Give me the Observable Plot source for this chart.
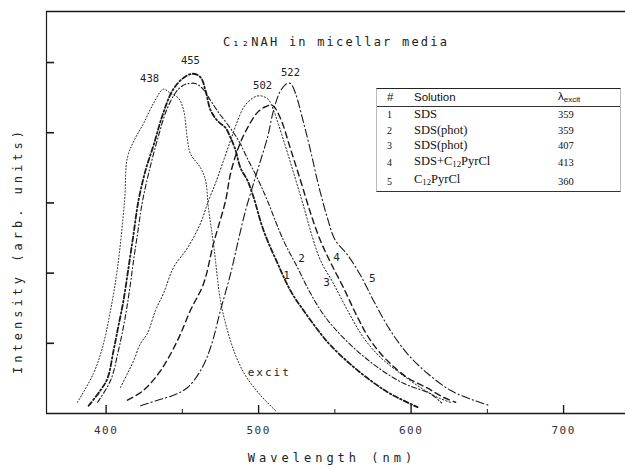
<!DOCTYPE html>
<html><head><meta charset="utf-8">
<script src="https://cdn.jsdelivr.net/npm/d3@7"></script>
<script src="https://cdn.jsdelivr.net/npm/@observablehq/plot@0.6"></script>
<style>
body{margin:0;background:#fff;}
#wrap{position:relative;width:625px;height:471px;overflow:hidden;}
#legend{position:absolute;left:376px;top:88px;width:243px;border-top:1.5px solid #222;border-bottom:1.2px solid #333;border-left:1px solid #bbb;border-right:1px solid #bbb;}
#legend table{border-collapse:collapse;width:100%;font-family:"Liberation Serif",serif;font-size:12.5px;color:#111;}
#legend th{font-family:"Liberation Sans",sans-serif;font-weight:normal;font-size:11.5px;text-align:left;border-bottom:1.2px solid #333;padding:1px 0 2px 0;height:12px;}
#legend td{padding:0;height:15.5px;line-height:15.5px;}
#legend td.n{padding-left:10px;width:27px;font-size:10px;}
#legend th.n{padding-left:10px;}
#legend td.v{width:62px;font-size:10.5px;}
sub{font-size:70%;vertical-align:-2px;}
</style></head><body><div id="wrap"></div>
<script>
// ---- data (wavelength nm, intensity arb. units) ----
const wlExcit = [381.2,391.7,397.6,402.9,407.5,412.1,414.0,419.3,424.5,431.1,437.6,442.2,447.5,450.8,453.4,455.3,461.9,465.2,467.1,470.4,475.0,479.6,484.9,491.4,501.2,511.1];
const inExcit = [0.16,0.57,0.94,1.47,2.08,3.03,3.65,3.93,4.13,4.42,4.62,4.56,4.49,4.32,3.89,3.70,3.50,3.32,2.93,2.42,1.61,1.18,0.83,0.54,0.26,0.04];

const wl1 = [388.5,396.3,400.9,404.9,408.1,411.4,414.7,418.0,421.2,425.8,431.1,437.0,443.5,450.1,456.7,461.9,465.2,468.5,473.0,478.3,481.6,484.9,488.1,492.7,496.7,503.2,512.4,520.9,529.4,540.6,547.2,560.3,575.3,586.5,604.2];
const in1 = [0.11,0.33,0.50,0.90,1.25,1.61,2.08,2.56,3.03,3.46,3.82,4.25,4.60,4.77,4.84,4.79,4.60,4.32,4.17,4.07,3.93,3.75,3.50,3.32,3.08,2.61,2.14,1.75,1.47,1.14,0.97,0.70,0.44,0.28,0.09];

const wl2 = [394.4,402.9,408.1,412.1,415.3,418.0,420.6,423.9,429.1,434.4,439.6,445.5,450.1,454.0,458.6,463.2,468.5,473.7,480.3,486.8,493.4,499.9,505.8,516.4,525.5,532.1,540.6,549.1,562.2,577.9,595.0,612.7,620.0];
const in2 = [0.16,0.47,0.90,1.32,1.75,2.18,2.56,3.03,3.53,3.96,4.32,4.57,4.67,4.70,4.70,4.63,4.46,4.29,4.10,3.89,3.60,3.32,3.03,2.46,2.08,1.79,1.47,1.23,0.94,0.66,0.43,0.28,0.15];

const wl3 = [409.4,414.0,418.0,422.6,427.1,432.4,437.6,444.2,453.4,461.9,467.1,471.7,476.3,481.6,486.2,490.1,494.7,498.6,502.6,506.5,509.8,516.4,522.9,529.4,535.3,540.6,549.1,558.3,568.8,579.9,593.0,606.2,617.3,625.8];
const in3 = [0.37,0.57,0.75,1.00,1.14,1.47,1.71,2.08,2.36,2.71,3.03,3.28,3.56,3.89,4.17,4.36,4.47,4.52,4.52,4.47,4.32,3.89,3.43,2.96,2.51,2.18,1.85,1.47,1.08,0.80,0.57,0.37,0.23,0.16];

const wl4 = [414.0,424.5,435.7,446.8,455.3,463.9,470.4,478.3,481.6,486.8,492.7,499.3,504.5,509.1,514.4,520.9,527.5,534.0,540.6,547.2,555.7,564.9,573.4,584.5,597.6,610.8,621.2,629.2];
const in4 = [0.19,0.33,0.61,1.04,1.47,1.85,2.42,3.03,3.42,3.79,4.07,4.29,4.37,4.39,4.20,3.77,3.32,2.86,2.46,2.15,1.79,1.37,1.04,0.75,0.51,0.36,0.23,0.16];

const wl5 = [422.6,433.7,444.2,453.4,461.9,468.5,475.0,481.6,486.2,491.4,496.7,501.2,505.8,509.8,514.4,518.5,521.0,524.2,528.8,534.0,539.3,545.2,550.0,558.3,566.8,575.3,586.5,597.6,610.8,625.8,640.9,652.1];
const in5 = [0.11,0.19,0.26,0.37,0.61,0.94,1.47,1.99,2.42,2.89,3.28,3.60,3.93,4.32,4.60,4.70,4.70,4.56,4.20,3.75,3.25,2.78,2.48,2.26,1.97,1.61,1.18,0.85,0.57,0.33,0.19,0.11];

const xTicks = [400, 500, 600, 700];
const xMinorTicks = [450, 550, 650];
const yTicks = [1, 2, 3, 4, 5];

const peakLabels = ["438", "455", "502", "522"];
const peakWl = [428.5, 455.3, 502.6, 520.9];
const peakIn = [4.77, 5.03, 4.67, 4.86];

const curveLabels = ["1", "2", "3", "4", "5", "excit"];
const curveLabelWl = [519.0, 528.8, 545.2, 551.7, 575.3, 507.0];
const curveLabelIn = [1.97, 2.21, 1.86, 2.22, 1.92, 0.58];

const solNums = ["1", "2", "3", "4", "5"];
const solNames = ["SDS", "SDS(phot)", "SDS(phot)", "SDS+C12PyrCl", "C12PyrCl"];
const solExcit = ["359", "359", "407", "413", "360"];

const titleText = "C₁₂NAH in micellar media";
const xLabel = "Wavelength (nm)";
const yLabel = "Intensity (arb. units)";

// ---- build ----
const toRows = (wl, I) => wl.map((w, i) => ({wl: w, I: I[i]}));
const xDom = [360.9, 740.6];
const yDom = [0, 5.727];
const ink = "#1a1a1a";

const lineStyles = [
  {rows: toRows(wlExcit, inExcit), strokeWidth: 1.0, strokeDasharray: "1,2.2"},
  {rows: toRows(wl1, in1), strokeWidth: 1.8, strokeDasharray: "5,2.5,1.5,2.5"},
  {rows: toRows(wl2, in2), strokeWidth: 1.1, strokeDasharray: "5,2.5,1,2.5"},
  {rows: toRows(wl3, in3), strokeWidth: 1.0, strokeDasharray: "1.3,2.2"},
  {rows: toRows(wl4, in4), strokeWidth: 1.4, strokeDasharray: "6,4"},
  {rows: toRows(wl5, in5), strokeWidth: 1.1, strokeDasharray: "8,3,1.2,3"}
];

const plot = Plot.plot({
  width: 625, height: 471,
  marginLeft: 46, marginRight: 0, marginTop: 11, marginBottom: 58,
  x: {domain: xDom, axis: null},
  y: {domain: yDom, axis: null},
  style: {fontFamily: "'DejaVu Sans Mono', monospace", fontSize: "11px", color: ink, background: "#fff", overflow: "visible"},
  marks: [
    Plot.ruleY([yDom[0]], {stroke: ink, strokeWidth: 1.6}),
    Plot.ruleY([yDom[1]], {stroke: ink, strokeWidth: 1.4}),
    Plot.ruleX([xDom[0]], {stroke: ink, strokeWidth: 1.2}),
    Plot.tickX(xTicks, {x: d => d, stroke: ink, strokeWidth: 1.4, insetTop: 394}),
    Plot.tickX(xMinorTicks, {x: d => d, stroke: ink, strokeWidth: 1, insetTop: 398}),
    Plot.tickY(yTicks, {y: d => d, stroke: ink, strokeWidth: 1.6, insetRight: 571}),
    ...lineStyles.map(s => Plot.line(s.rows, {x: "wl", y: "I", stroke: ink, strokeWidth: s.strokeWidth, strokeDasharray: s.strokeDasharray, curve: "catmull-rom"})),
    Plot.text(xTicks, {x: d => d, text: d => String(d), frameAnchor: "bottom", lineAnchor: "middle", dy: 17, fontSize: 11, fill: "#333", ariaDescription: "xtick"}),
    Plot.text(peakLabels, {x: (d, i) => peakWl[i], y: (d, i) => peakIn[i], text: d => d, fontSize: 10.5, fill: "#222"}),
    Plot.text(curveLabels, {x: (d, i) => curveLabelWl[i], y: (d, i) => curveLabelIn[i], text: d => d, fontSize: 11, fill: "#222", ariaDescription: "clabel"}),
    Plot.text([titleText], {frameAnchor: "top", lineAnchor: "middle", textAnchor: "middle", dy: 31, dx: 0, text: d => d, fontSize: 12, fill: "#222", ariaDescription: "title"}),
    Plot.text([xLabel], {frameAnchor: "bottom", lineAnchor: "middle", textAnchor: "middle", dy: 45, dx: -4, text: d => d, fontSize: 12, fill: "#222", ariaDescription: "xlabel"}),
    Plot.text([yLabel], {frameAnchor: "left", lineAnchor: "middle", textAnchor: "middle", dx: -28, dy: 38, rotate: -90, text: d => d, fontSize: 12, fill: "#222", ariaDescription: "ylabel"})
  ]
});

document.getElementById("wrap").appendChild(plot);
const svg = d3.select(plot);
svg.selectAll("g[aria-description='ylabel'] text").style("letter-spacing", "4px");
svg.selectAll("g[aria-description='xlabel'] text").style("letter-spacing", "4px");
svg.selectAll("g[aria-description='title'] text").style("letter-spacing", "2.2px");
svg.selectAll("g[aria-description='xtick'] text").style("letter-spacing", "1.5px");
svg.selectAll("g[aria-description='clabel'] text").style("letter-spacing", "2px");

// ---- legend table ----
const fmt = s => s.replace("C12", "C<sub>12</sub>");
const leg = document.createElement("div");
leg.id = "legend";
leg.innerHTML = `<table><thead><tr><th class="n">#</th><th>Solution</th><th>λ<sub>excit</sub></th></tr></thead><tbody>` +
  solNums.map((n, i) => `<tr><td class="n">${n}</td><td>${fmt(solNames[i])}</td><td class="v">${solExcit[i]}</td></tr>`).join("") +
  `</tbody></table>`;
document.getElementById("wrap").appendChild(leg);
</script>
</body></html>
